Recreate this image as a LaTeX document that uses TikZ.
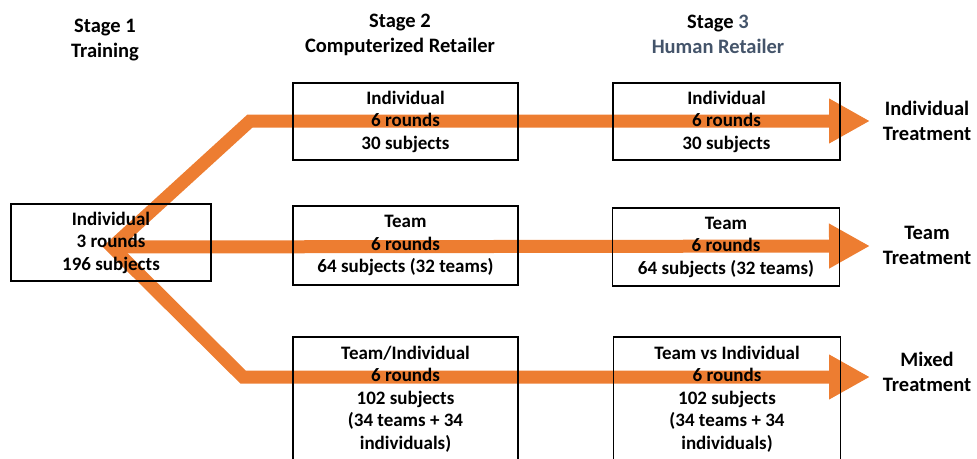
\documentclass[tikz,border=0pt]{standalone}
\usepackage{fontspec}
\setmainfont{Carlito}
\usetikzlibrary{arrows.meta}
\definecolor{flow}{RGB}{237,125,49}
\definecolor{slate}{RGB}{68,84,106}

\begin{document}
\begin{tikzpicture}[x=1pt,y=1pt,yscale=-1,
  box/.style={draw,line width=1.4pt,align=center,inner sep=0pt,
    font=\bfseries\fontsize{19}{22.5}\selectfont},
  head/.style={align=center,inner sep=0pt,
    font=\bfseries\fontsize{20.5}{25}\selectfont},
  band/.style={draw=flow,line width=13pt,line join=miter},
  bandtip/.tip={Triangle[length=41pt,width=42pt]}]
\useasboundingbox (0,0) rectangle (977,458);
\clip (0,0) rectangle (977,458);

% orange flow bands, drawn first so the boxes sit on top
\coordinate (split) at (112,247);
\coordinate (upper bend) at (250,121);
\coordinate (lower bend) at (243,377);
\coordinate (upper tip) at (870,121);
\coordinate (middle tip) at (870,246);
\coordinate (lower tip) at (870,377);
\draw[band,bandtip-bandtip] (upper tip) -- (upper bend) -- (split) -- (lower bend) -- (lower tip);
\draw[band,-bandtip] (split) -- (middle tip);

% column headings
\node[head] (stage1) at (105,40) {Stage 1\\Training};
\node[head] (stage2) at (400,34.5) {Stage 2\\Computerized Retailer};
\node[head] (stage3) at (718,34.5) {Stage \textcolor{slate}{3}\\\textcolor{slate}{Human Retailer}};

% stage 1
\node[box,minimum width=200pt,minimum height=77pt] (training) at (111,242.5) {Individual\\3 rounds\\196 subjects};

% stage 2
\node[box,minimum width=225pt,minimum height=77pt] (comp ind) at (405.5,121.5) {Individual\\6 rounds\\30 subjects};
\node[box,minimum width=225pt,minimum height=79pt] (comp team) at (405.5,245.5) {Team\\6 rounds\\64 subjects (32 teams)};
\node[box,minimum width=225pt,minimum height=124pt] (comp mix) at (405.5,399) {Team/Individual\\6 rounds\\102 subjects\\(34 teams + 34\\individuals)};

% stage 3
\node[box,minimum width=227pt,minimum height=77pt] (hum ind) at (726.5,121.5) {Individual\\6 rounds\\30 subjects};
\node[box,minimum width=227pt,minimum height=78pt] (hum team) at (726,247) {Team\\6 rounds\\64 subjects (32 teams)};
\node[box,minimum width=227pt,minimum height=124pt] (hum mix) at (727,399) {Team vs Individual\\6 rounds\\102 subjects\\(34 teams + 34\\individuals)};

% treatment labels
\node[head] (treat ind) at (927,120.5) {Individual\\Treatment};
\node[head] (treat team) at (927,245) {Team\\Treatment};
\node[head] (treat mix) at (927,371.5) {Mixed\\Treatment};
\end{tikzpicture}
\end{document}
